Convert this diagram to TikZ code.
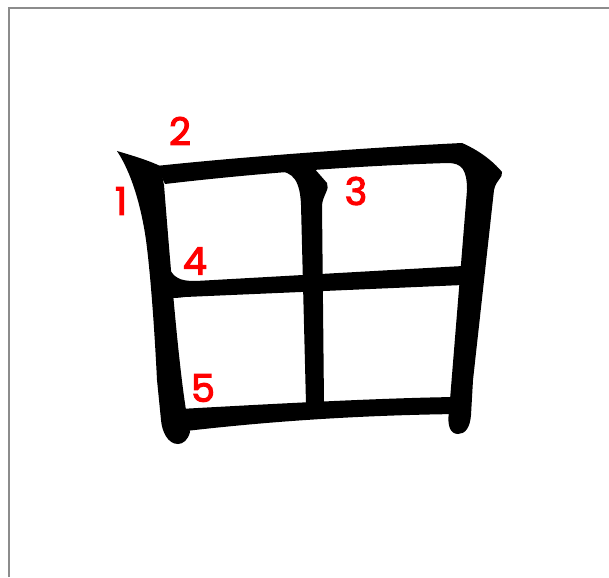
\documentclass[tikz,border=0pt]{standalone}
\usepackage{fontspec}
\newfontfamily\numfont[FakeBold=3]{Poppins}
\begin{document}
\begin{tikzpicture}[x=1pt, y=-1pt,
  brush/.style={fill=black},
  num/.style={text=red, inner sep=0pt, font=\fontsize{38}{40}\numfont}]
  \useasboundingbox (0,0) rectangle (609,577);
  % bingkai
  \draw[black!45, line width=2.5pt] (9,577) -- (9,8) -- (609,8);
  % goresan 1
  \fill[brush] (117,151) .. controls (134,156) and (150,161) .. (160,166)
    -- (164,185)
    .. controls (170,260) and (178,360) .. (186,410)
    -- (190,432)
    .. controls (188,440) and (183,444) .. (178,444)
    .. controls (168,444) and (162,432) .. (161,420)
    -- (157,380)
    .. controls (154,320) and (150,270) .. (146,240)
    .. controls (141,205) and (131,172) .. (117,151) -- cycle;
  % goresan 2
  \fill[brush] (156,166) .. controls (250,156) and (380,147) .. (462,143)
    .. controls (478,150) and (492,160) .. (502,172)
    .. controls (503,178) and (496,180) .. (494,190)
    -- (473,380) -- (471,415)
    .. controls (470,428) and (465,434) .. (458,434)
    .. controls (450,434) and (447,425) .. (449,412)
    -- (467,190)
    .. controls (467,170) and (462,163) .. (448,163)
    .. controls (350,166) and (250,174) .. (165,184) -- cycle;
  % goresan 3
  \fill[brush] (276,160) -- (311,160) -- (313,167) -- (327,183)
    .. controls (330,189) and (323,195) .. (322,205)
    -- (324,404) -- (306,404) -- (301,205)
    .. controls (300,182) and (294,171) .. (276,171) -- cycle;
  % goresan 4
  \fill[brush] (170,270) .. controls (176,280) and (184,281) .. (196,281)
    -- (463,266) -- (463,285) -- (185,297)
    .. controls (178,298) and (174,298) .. (170,298) -- cycle;
  % goresan 5
  \fill[brush] (180,409) .. controls (270,404) and (380,398) .. (456,397)
    -- (458,414)
    .. controls (380,415) and (290,419) .. (186,431) -- cycle;
  % nomor urut
  \node[num] (n1) at (121,201) {1};
  \node[num] (n2) at (180,131) {2};
  \node[num] (n3) at (356,191) {3};
  \node[num] (n4) at (195,261) {4};
  \node[num] (n5) at (203,388) {5};
\end{tikzpicture}
\end{document}
